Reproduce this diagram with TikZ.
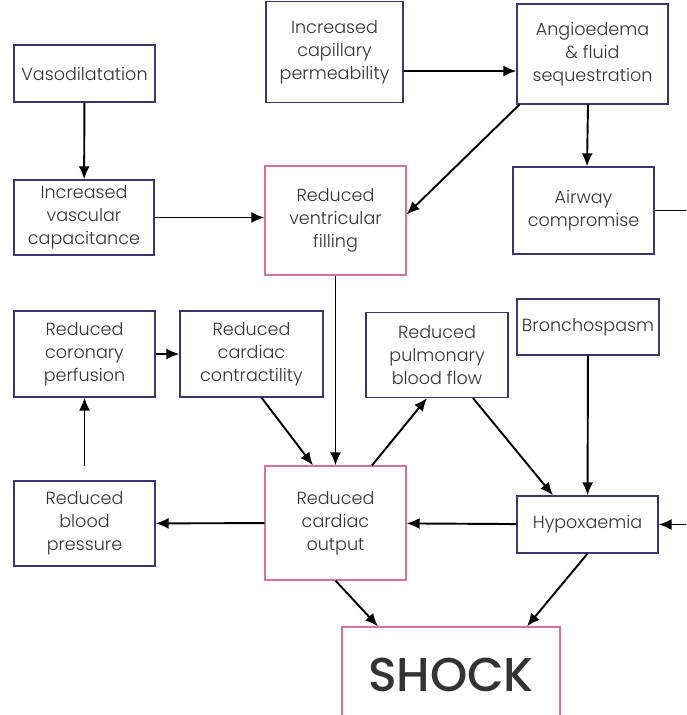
\documentclass[tikz,border=0pt]{standalone}
\usepackage{fontspec}
\setmainfont{Poppins}[UprightFont=* Light,BoldFont=* Medium]
\usepackage{tikz}
\usetikzlibrary{arrows.meta}
\definecolor{navy}{HTML}{3B3670}
\definecolor{rose}{HTML}{D3729A}
\definecolor{ink}{HTML}{333333}

\tikzset{
  box/.style={draw=navy,line width=0.7pt,align=center,inner sep=1pt,text=ink,
    font=\fontsize{10}{13}\selectfont},
  pinkbox/.style={box,draw=rose},
  arr/.style={-{Latex[length=2.6mm,width=2.2mm]},line width=1.1pt}
}

\begin{document}
\begin{tikzpicture}
			\useasboundingbox (0,0) rectangle (13.72,14.3);
			\clip (0,0) rectangle (13.72,14.3);
				% top row
				\node[box,minimum width=2.82cm,minimum height=1.14cm] (vaso) at (1.69,12.83) {Vasodilatation};
				\node[box,minimum width=2.74cm,minimum height=2.02cm] (capil) at (6.69,13.26) {Increased\\capillary\\permeability};
				\node[box,minimum width=3.02cm,minimum height=2.0cm] (angio) at (11.85,13.22) {Angioedema\\\& fluid\\sequestration};
				
				\node[box,minimum width=2.8cm,minimum height=1.5cm] (capac) at (1.68,9.95) {Increased\\vascular\\capacitance};
				\node[pinkbox,minimum width=2.82cm,minimum height=2.18cm] (fill) at (6.71,9.89) {Reduced\\ventricular\\filling};
				\node[box,minimum width=2.82cm,minimum height=1.74cm] (airway) at (11.67,10.09) {Airway\\compromise};
				
				% middle row
				\node[box,minimum width=2.82cm,minimum height=1.72cm] (coron) at (1.69,7.22) {Reduced\\coronary\\perfusion};
				\node[box,minimum width=2.86cm,minimum height=1.72cm] (contr) at (5.03,7.22) {Reduced\\cardiac\\contractility};
				\node[box,minimum width=2.84cm,minimum height=1.7cm] (pulm) at (8.74,7.2) {Reduced\\pulmonary\\blood flow};
				\node[box,minimum width=2.84cm,minimum height=1.12cm] (bronch) at (11.76,7.76) {Bronchospasm};
				
				% bottom row
				\node[box,minimum width=2.82cm,minimum height=1.7cm] (bp) at (1.69,3.83) {Reduced\\blood\\pressure};
				\node[pinkbox,minimum width=2.82cm,minimum height=2.28cm] (output) at (6.71,3.84) {Reduced\\cardiac\\output};
				\node[box,minimum width=2.82cm,minimum height=1.14cm] (hypox) at (11.75,3.81) {Hypoxaemia};
				\node[pinkbox,minimum width=4.36cm,minimum height=1.92cm,font=\fontsize{27}{30}\selectfont\bfseries] (shock) at (9.02,0.8) {SHOCK};
				
				\draw[arr] (vaso) -- (capac);
				\draw[arr] ([yshift=-0.38cm]capil.east) -- ([yshift=-0.34cm]angio.west);
				\draw[arr] ([xshift=0.06cm]angio.south west) -- ([yshift=0.12cm]fill.east);
				\draw[arr] ([xshift=-0.09cm]angio.south) -- ([xshift=0.07cm]airway.north);
				\draw[arr] (capac.east) -- ([yshift=0.06cm]fill.west);
				\draw[arr] (airway.east) -- ++(0.9,0) |- (hypox.east);
				\draw[arr] (fill) -- (output);
				\draw[arr] (coron) -- (contr);
				\draw[arr] ([xshift=0.2cm]contr.south) -- ([xshift=-0.45cm]output.north);
				\draw[arr] ([xshift=0.73cm]output.north) -- ([xshift=-0.2cm]pulm.south);
				\draw[arr] ([xshift=0.72cm]pulm.south) -- ([xshift=-0.69cm]hypox.north);
				\draw[arr] (bronch) -- (hypox);
				\draw[arr] (hypox) -- (output);
				\draw[arr] (output) -- (bp);
				\draw[arr] ([yshift=0.28cm]bp.north) -- (coron.south);
				\draw[arr] (output.south) -- ([xshift=-1.46cm]shock.north);
				\draw[arr] (hypox.south) -- ([xshift=1.52cm]shock.north);
				
		\end{tikzpicture}
\end{document}
